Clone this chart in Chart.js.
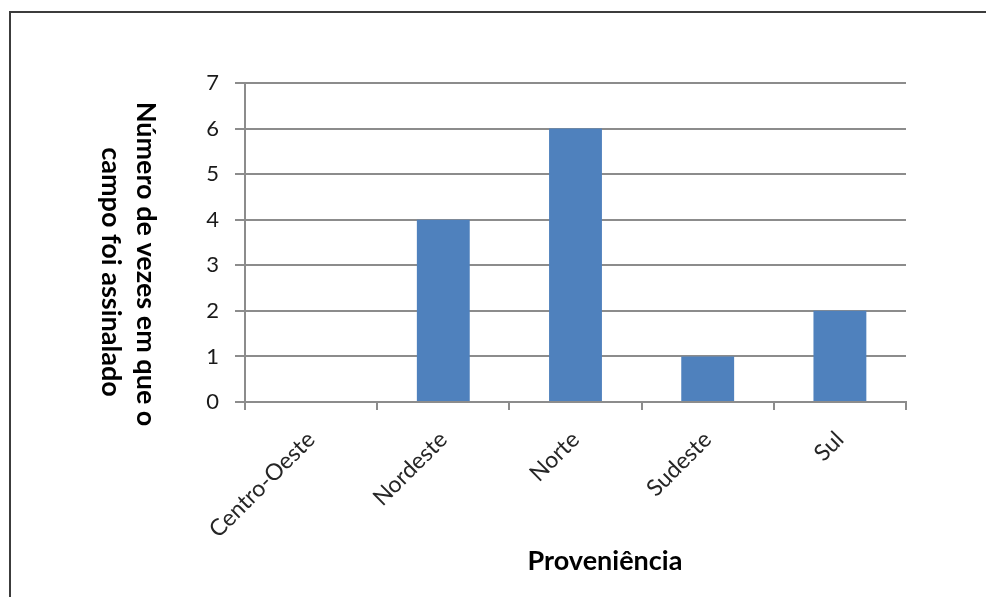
<!DOCTYPE html>
<html>
<head>
<meta charset="utf-8">
<script src="https://cdn.jsdelivr.net/npm/chart.js@4.4.0/dist/chart.umd.min.js"></script>
<style>
  html, body { margin: 0; padding: 0; background: #fff; }
  #wrap { position: relative; width: 986px; height: 597px; }
</style>
</head>
<body>
<div id="wrap"><canvas id="barChart"></canvas></div>
<script>
// Chart data
const categories = ['Centro-Oeste', 'Nordeste', 'Norte', 'Sudeste', 'Sul'];
const counts = [0, 4, 6, 1, 2];
const yTicks = [0, 1, 2, 3, 4, 5, 6, 7];
const yTitleLines = ['Número de vezes em que o', 'campo foi assinalado'];
const xTitle = 'Proveniência';

const FONT = 'Lato, "Open Sans", sans-serif';

// Draws the outer frame and the two axis titles (y title reads top to bottom)
const extras = {
  id: 'extras',
  afterDraw(chart) {
    const ctx = chart.ctx;
    ctx.save();
    ctx.strokeStyle = '#3c3c3c';
    ctx.lineWidth = 2;
    ctx.beginPath();
    ctx.moveTo(10, 597);
    ctx.lineTo(10, 12);
    ctx.lineTo(986, 12);
    ctx.stroke();

    ctx.fillStyle = '#000';
    ctx.font = 'bold 27px ' + FONT;
    ctx.textAlign = 'center';
    ctx.textBaseline = 'alphabetic';
    ctx.fillText(xTitle, 605, 570);

    // baseline x and centre y of each rotated line
    [[137, 264], [102, 272]].forEach(([x, y], i) => {
      ctx.save();
      ctx.translate(x, y);
      ctx.rotate(Math.PI / 2);
      ctx.fillText(yTitleLines[i], 0, 0);
      ctx.restore();
    });
    ctx.restore();
  }
};

function visualizeProveniencia() {
  new Chart(document.getElementById('barChart'), {
    type: 'bar',
    data: {
      labels: categories,
      datasets: [{
        data: counts,
        backgroundColor: '#4f81bd',
        barPercentage: 0.4,
        categoryPercentage: 1
      }]
    },
    options: {
      responsive: false,
      animation: false,
      layout: { padding: { left: 0, top: 83, right: 80, bottom: 0 } },
      plugins: { legend: { display: false }, tooltip: { enabled: false } },
      scales: {
        x: {
          offset: true,
          afterFit(scale) { scale.height = 195; },
          grid: { offset: true, drawOnChartArea: false, drawTicks: true, tickLength: 8, color: '#8c8c8c', lineWidth: 2 },
          border: { color: '#8c8c8c', width: 2 },
          ticks: {
            minRotation: 45, maxRotation: 45, padding: 16,
            color: '#262626', font: { family: FONT, size: 23 }
          }
        },
        y: {
          min: 0, max: 7,
          afterFit(scale) { scale.width = 245; },
          afterBuildTicks(scale) { scale.ticks = yTicks.map(v => ({ value: v })); },
          grid: { color: '#8c8c8c', lineWidth: 2, tickLength: 10 },
          border: { color: '#8c8c8c', width: 2 },
          ticks: {
            stepSize: 1, padding: 16,
            color: '#1a1a1a', font: { family: FONT, size: 22 }
          }
        }
      }
    },
    plugins: [extras]
  });
}

const cv = document.getElementById('barChart');
cv.width = 986;
cv.height = 597;
visualizeProveniencia();
</script>
</body>
</html>
